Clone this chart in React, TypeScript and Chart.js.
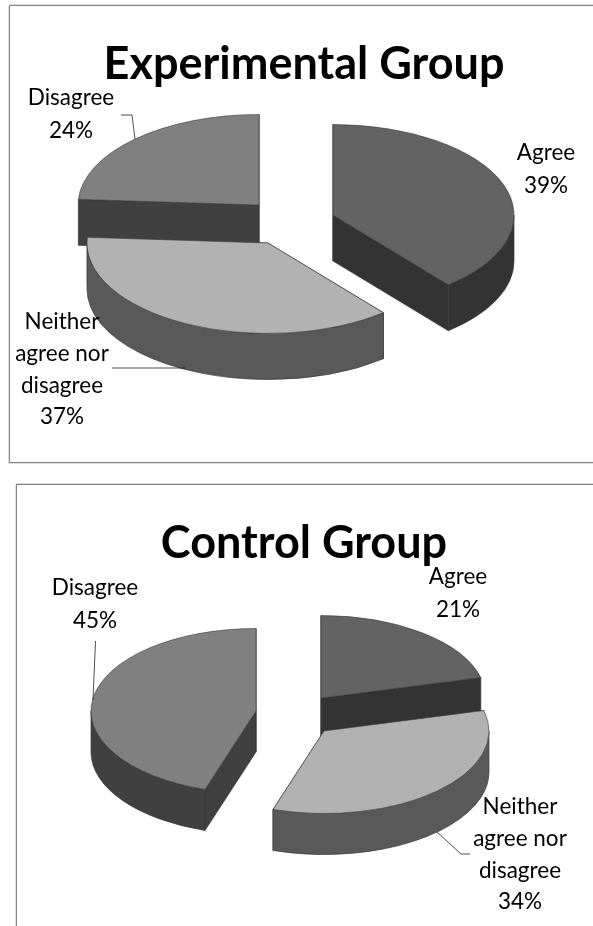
import React, { useEffect, useRef } from "react";
import { Chart, registerables } from "chart.js";

Chart.register(...registerables);

const categories = ["Agree", "Neither agree nor disagree", "Disagree"];
const experimentalValues = [39, 37, 24];
const controlValues = [21, 34, 45];
const topColors = ["#636363", "#b2b2b2", "#808080"];
const sideColors = ["#333333", "#595959", "#404040"];
const SQUASH = 0.5;
const FONT = "Lato, sans-serif";

const experimentalLayout = {
  top: 0,
  height: 470,
  titlePad: 37,
  radius: 181,
  depth: 46,
  origin: { x: 280, y: 225 },
  offsets: [
    { x: 53, y: -10 },
    { x: -12, y: 18 },
    { x: -21, y: -20 },
  ],
  labels: [
    { x: 546, y: 153 },
    { x: 62, y: 322 },
    { x: 71, y: 98 },
  ],
  lines: [
    [[121, 115], [132, 115], [135, 139]],
    [[112, 368], [185, 368]],
  ],
};

const controlLayout = {
  top: 470,
  height: 456,
  titlePad: 46,
  radius: 165,
  depth: 41,
  origin: { x: 290, y: 245 },
  offsets: [
    { x: 31, y: -17 },
    { x: 34, y: 16 },
    { x: -34, y: -4 },
  ],
  labels: [
    { x: 458, y: 107 },
    { x: 520, y: 337 },
    { x: 95, y: 118 },
  ],
  lines: [
    [[95.5, 171], [93, 230]],
    [[437, 362], [461, 384], [470, 384]],
  ],
};

type PieLayout = typeof experimentalLayout;

function splitLabel(name: string): string[] {
  return name === "Neither agree nor disagree" ? ["Neither", "agree nor", "disagree"] : [name];
}

function prismPlugin(layout: PieLayout) {
  return {
    id: "prism",
    afterDatasetsUpdate(chart: any) {
      chart.getDatasetMeta(0).data.forEach((arc: any, i: number) => {
        arc.x = layout.origin.x + layout.offsets[i].x;
        arc.y = (layout.origin.y + layout.offsets[i].y) / SQUASH;
      });
    },
    beforeDatasetsDraw(chart: any) {
      const ctx = chart.ctx;
      chart.getDatasetMeta(0).data.forEach((arc: any, i: number) => {
        const cx = arc.x;
        const cy = arc.y * SQUASH;
        const r = arc.outerRadius;
        const ry = r * SQUASH;
        const d = layout.depth;
        const a0 = arc.startAngle;
        const a1 = arc.endAngle;
        ctx.save();
        ctx.fillStyle = sideColors[i];
        ctx.strokeStyle = "#3a3a3a";
        ctx.lineWidth = 0.7;
        for (const a of [a0, a1]) {
          const ex = cx + r * Math.cos(a);
          const ey = cy + ry * Math.sin(a);
          ctx.beginPath();
          ctx.moveTo(cx, cy);
          ctx.lineTo(ex, ey);
          ctx.lineTo(ex, ey + d);
          ctx.lineTo(cx, cy + d);
          ctx.closePath();
          ctx.fill();
          ctx.stroke();
        }
        const s = Math.max(a0, 0);
        const e = Math.min(a1, Math.PI);
        if (e > s) {
          ctx.beginPath();
          ctx.ellipse(cx, cy, r, ry, 0, s, e);
          ctx.ellipse(cx, cy + d, r, ry, 0, e, s, true);
          ctx.closePath();
          ctx.fill();
          ctx.stroke();
        }
        ctx.restore();
      });
      ctx.save();
      ctx.scale(1, SQUASH);
    },
    afterDatasetsDraw(chart: any) {
      chart.ctx.restore();
    },
    afterDraw(chart: any) {
      const ctx = chart.ctx;
      const values = chart.data.datasets[0].data;
      ctx.save();
      ctx.fillStyle = "#000000";
      ctx.font = `22.5px ${FONT}`;
      ctx.textAlign = "center";
      ctx.textBaseline = "middle";
      categories.forEach((name, i) => {
        const rows = [...splitLabel(name), `${values[i]}%`];
        const step = rows.length > 2 ? 31.7 : 33;
        rows.forEach((row, j) => {
          ctx.fillText(row, layout.labels[i].x, layout.labels[i].y + j * step);
        });
      });
      ctx.strokeStyle = "#222222";
      ctx.lineWidth = 0.8;
      layout.lines.forEach((pts) => {
        ctx.beginPath();
        pts.forEach(([x, y], j) => (j ? ctx.lineTo(x, y) : ctx.moveTo(x, y)));
        ctx.stroke();
      });
      ctx.restore();
    },
  };
}

function Pie({ title, values, layout }: { title: string; values: number[]; layout: PieLayout }) {
  const ref = useRef<HTMLCanvasElement>(null);
  useEffect(() => {
    const chart = new Chart(ref.current!, {
      type: "pie",
      data: {
        labels: categories,
        datasets: [
          {
            data: values,
            backgroundColor: topColors,
            borderColor: "#3a3a3a",
            borderWidth: 0.8,
            clip: false,
          } as any,
        ],
      },
      options: {
        animation: false,
        responsive: false,
        devicePixelRatio: 1,
        radius: layout.radius,
        layout: { padding: { left: 15 } },
        plugins: {
          legend: { display: false },
          tooltip: { enabled: false },
          title: {
            display: true,
            text: title,
            color: "#000000",
            font: { family: FONT, size: 45, weight: "bold" },
            padding: { top: layout.titlePad, bottom: 4 },
          },
        },
      } as any,
      plugins: [prismPlugin(layout)],
    });
    return () => chart.destroy();
  }, []);
  return (
    <canvas
      ref={ref}
      width={593}
      height={layout.height}
      style={{ position: "absolute", left: 0, top: layout.top, width: 593, height: layout.height }}
    />
  );
}

export default function App() {
  useEffect(() => {
    document.body.style.margin = "0";
    document.body.style.overflow = "hidden";
  }, []);
  const frame = (left: number, top: number, height: number): React.CSSProperties => ({
    position: "absolute",
    left,
    top,
    width: 700,
    height,
    border: "1px solid #858585",
    boxShadow: "-1px 1px 0 #dddddd, 0 -1px 0 #dddddd",
    boxSizing: "border-box",
  });
  return (
    <div style={{ position: "relative", width: 593, height: 926, overflow: "hidden", background: "#fff" }}>
      <div style={frame(9, 5, 458)} />
      <div style={frame(16, 484, 600)} />
      <Pie title="Experimental Group" values={experimentalValues} layout={experimentalLayout} />
      <Pie title="Control Group" values={controlValues} layout={controlLayout} />
    </div>
  );
}
